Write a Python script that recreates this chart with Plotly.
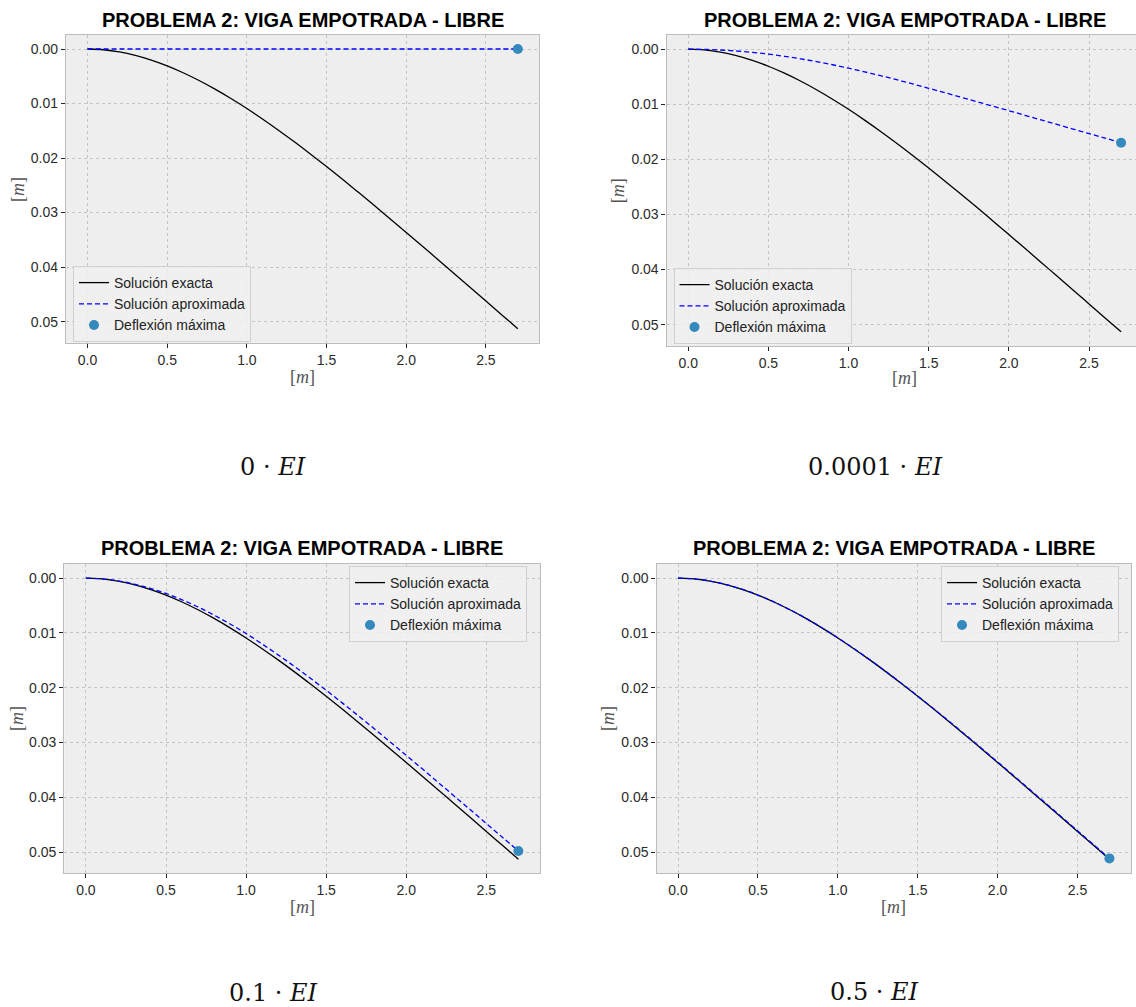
import plotly.graph_objects as go

# ---------------- data ----------------
x_vals = [0.0, 0.1, 0.2, 0.3, 0.4, 0.5, 0.6, 0.7, 0.8, 0.9, 1.0, 1.1, 1.2, 1.3,
          1.4, 1.5, 1.6, 1.7, 1.8, 1.9, 2.0, 2.1, 2.2, 2.3, 2.4, 2.5, 2.6, 2.7]

exact = [0.0, 0.00014, 0.00054, 0.00118, 0.00204, 0.00310, 0.00436, 0.00578,
         0.00736, 0.00908, 0.01092, 0.01288, 0.01493, 0.01707, 0.01929, 0.02157,
         0.02391, 0.02629, 0.02871, 0.03117, 0.03365, 0.03614, 0.03866, 0.04118,
         0.04370, 0.04624, 0.04877, 0.05130]

approx_0 = [0.0] * 28  # flat line at zero

approx_00001 = [0.0, 0.00004, 0.00015, 0.00033, 0.00058, 0.00090, 0.00130, 0.00175,
                0.00226, 0.00283, 0.00345, 0.00412, 0.00482, 0.00555, 0.00631, 0.00710,
                0.00790, 0.00871, 0.00953, 0.01035, 0.01117, 0.01200, 0.01283, 0.01366,
                0.01449, 0.01532, 0.01615, 0.01698]

approx_01 = [0.0, 0.00013, 0.00050, 0.00109, 0.00186, 0.00280, 0.00396, 0.00528,
             0.00676, 0.00838, 0.01012, 0.01202, 0.01401, 0.01609, 0.01825, 0.02047,
             0.02277, 0.02511, 0.02749, 0.02991, 0.03235, 0.03481, 0.03730, 0.03979,
             0.04228, 0.04479, 0.04729, 0.04980]

approx_05 = [0.0, 0.00014, 0.00054, 0.00118, 0.00203, 0.00309, 0.00435, 0.00577,
             0.00734, 0.00906, 0.01089, 0.01285, 0.01490, 0.01703, 0.01924, 0.02152,
             0.02385, 0.02622, 0.02863, 0.03108, 0.03355, 0.03604, 0.03855, 0.04106,
             0.04358, 0.04611, 0.04863, 0.05115]

max_x = [2.7, 2.7, 2.7, 2.7]
max_y = [0.0, 0.01698, 0.04980, 0.05115]

captions = ["0 · <i>EI</i>", "0.0001 · <i>EI</i>", "0.1 · <i>EI</i>", "0.5 · <i>EI</i>"]
title_text = "<b>PROBLEMA 2: VIGA EMPOTRADA - LIBRE</b>"
x_ticks = [0.0, 0.5, 1.0, 1.5, 2.0, 2.5]
y_ticks = [0.00, 0.01, 0.02, 0.03, 0.04, 0.05]
names = ["Solución exacta", "Solución aproximada", "Deflexión máxima"]

approx_sets = [approx_0, approx_00001, approx_01, approx_05]

# ---------------- layout geometry (pixels) ----------------
W, H = 1136, 1007
# left, right, top, bottom of each plot area
boxes = [(66.0, 539.3, 35.0, 342.7),
         (666.6, 1136.0, 35.0, 346.0),
         (64.3, 540.0, 564.0, 873.3),
         (656.5, 1131.0, 564.0, 873.3)]
x_ranges = [[-0.135, 2.835], [-0.135, 2.793], [-0.135, 2.835], [-0.135, 2.835]]
y_range = [0.05387, -0.00257]
legend_pos = [(73, 266), (673.5, 268), (349, 566), (941, 566)]
title_pos = [(302.7, 20), (904.6, 20), (302.3, 548.3), (894, 548.3)]
xlabel_pos = [(302.7, 377), (904.6, 378), (302.3, 907.3), (893.8, 907.3)]
ylabel_pos = [(17.9, 189), (618.8, 190.5), (16.5, 718.5), (607.4, 718.5)]
caption_pos = [(273.3, 466.7), (875, 466.7), (273, 993.3), (875, 991.7)]


def px(xp):
    return xp / W


def py(yp):
    return 1 - yp / H


fig = go.Figure()
SANS = "Liberation Sans, Arial, sans-serif"
SERIF = "Liberation Serif, Times New Roman, serif"

annotations = []
for i in range(4):
    sfx = "" if i == 0 else str(i + 1)
    xa, ya = "x" + sfx, "y" + sfx
    leg = "legend" + sfx
    fig.add_trace(go.Scatter(x=x_vals, y=exact, mode="lines", name=names[0],
                             line=dict(color="black", width=1.3, shape="spline"),
                             xaxis=xa, yaxis=ya, legend=leg))
    fig.add_trace(go.Scatter(x=x_vals, y=approx_sets[i], mode="lines", name=names[1],
                             line=dict(color="#0000ff", width=1.3, dash="5px,3px", shape="spline"),
                             xaxis=xa, yaxis=ya, legend=leg))
    fig.add_trace(go.Scatter(x=[max_x[i]], y=[max_y[i]], mode="markers", name=names[2],
                             marker=dict(color="#348ABD", size=10),
                             xaxis=xa, yaxis=ya, legend=leg))

    l, r, t, b = boxes[i]
    axcommon = dict(showline=True, linecolor="#bcbcbc", linewidth=1.3,
                    showgrid=True, gridcolor="#c4c4c4", gridwidth=1, griddash="dot",
                    zeroline=False, ticks="outside", ticklen=4, tickwidth=1,
                    tickcolor="#222222", tickfont=dict(family=SANS, size=14, color="#2b2b2b"))
    fig.layout["xaxis" + sfx] = dict(axcommon, domain=[px(l), px(r)], range=x_ranges[i],
                                     tickvals=x_ticks, ticktext=[f"{v:.1f}" for v in x_ticks],
                                     anchor=ya, mirror=True)
    fig.layout["yaxis" + sfx] = dict(axcommon, domain=[py(b), py(t)], range=y_range,
                                     tickvals=y_ticks, ticktext=[f"{v:.2f}" for v in y_ticks],
                                     anchor=xa, mirror=(i != 1))
    lx, ly = legend_pos[i]
    fig.layout[leg] = dict(x=px(lx), y=py(ly), xanchor="left", yanchor="top",
                           bgcolor="rgba(240,240,240,0.85)", bordercolor="#d0d0d0",
                           borderwidth=1, font=dict(family=SANS, size=14, color="#222222"),
                           tracegroupgap=0)

    tx, ty = title_pos[i]
    annotations.append(dict(text=title_text, x=px(tx), y=py(ty), xref="paper", yref="paper",
                            xanchor="center", yanchor="middle", showarrow=False,
                            font=dict(family=SANS, size=20, color="black")))
    ax_, ay_ = xlabel_pos[i]
    annotations.append(dict(text="[<i>m</i>]", x=px(ax_), y=py(ay_), xref="paper", yref="paper",
                            xanchor="center", yanchor="middle", showarrow=False,
                            font=dict(family=SERIF, size=18, color="#555555")))
    bx_, by_ = ylabel_pos[i]
    annotations.append(dict(text="[<i>m</i>]", x=px(bx_), y=py(by_), xref="paper", yref="paper",
                            xanchor="center", yanchor="middle", showarrow=False, textangle=-90,
                            font=dict(family=SERIF, size=18, color="#555555")))
    cx, cy = caption_pos[i]
    annotations.append(dict(text=captions[i], x=px(cx), y=py(cy), xref="paper", yref="paper",
                            xanchor="center", yanchor="middle", showarrow=False,
                            font=dict(family="DejaVu Serif, serif", size=24, color="#111111")))

fig.update_layout(width=W, height=H, margin=dict(l=0, r=0, t=0, b=0),
                  paper_bgcolor="white", plot_bgcolor="#eeeeee",
                  annotations=annotations, showlegend=True)

fig.write_html("out.html")
